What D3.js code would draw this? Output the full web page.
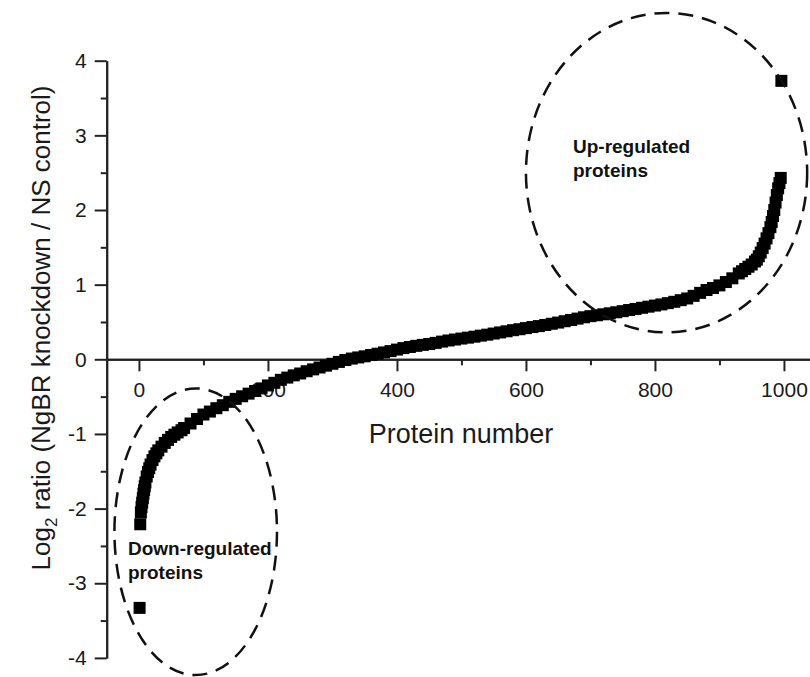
<!DOCTYPE html>
<html>
<head>
<meta charset="utf-8">
<script src="https://cdn.jsdelivr.net/npm/d3@7"></script>
<style>
  body { margin: 0; background: #fff; }
  svg { display: block; font-family: "Liberation Sans", Arial, sans-serif; }
</style>
</head>
<body>
<svg id="chart"></svg>
<script>
// protein rank (sorted by ratio) and log2 ratio
const proteinIndex = [
  1, 2, 3, 4, 5, 6, 7, 8, 9, 10, 12, 14, 16, 18, 21, 24, 27, 30, 35, 40, 45, 50, 55, 60, 66, 70,
  80, 90, 100, 110, 120, 130, 140, 150, 160, 170, 180, 190, 200, 210, 220, 230, 240, 250,
  260, 270, 280, 290, 300, 310, 320, 330, 340, 350, 360, 370, 380, 390, 400, 410, 420, 430,
  440, 450, 460, 470, 480, 490, 500, 510, 520, 530, 540, 550, 560, 570, 580, 590, 600, 610,
  620, 630, 640, 650, 660, 670, 680, 690, 700, 710, 720, 730, 740, 750, 760, 770, 780, 790,
  800, 810, 820, 830, 840, 850, 860, 870, 880, 890, 900, 910, 920, 930, 935, 940, 945, 950,
  955, 958, 961, 964, 967, 970, 973, 976, 979, 981, 983, 985, 987, 989, 991, 993, 995, 996
];
const log2Ratio = [
  -3.33, -2.21, -2.05, -1.98, -1.92, -1.86, -1.80, -1.75, -1.70, -1.65, -1.57, -1.51, -1.46,
  -1.41, -1.35, -1.30, -1.26, -1.22, -1.17, -1.12, -1.08, -1.04, -1.01, -0.98, -0.95, -0.92,
  -0.86, -0.80, -0.74, -0.70, -0.655, -0.615, -0.57, -0.53, -0.495, -0.46, -0.425, -0.39,
  -0.35, -0.315, -0.275, -0.245, -0.215, -0.19, -0.16, -0.135, -0.11, -0.085, -0.06, -0.035,
  -0.01, 0.01, 0.025, 0.04, 0.058, 0.075, 0.092, 0.11, 0.13, 0.15, 0.165, 0.18, 0.193, 0.205,
  0.22, 0.237, 0.252, 0.265, 0.278, 0.29, 0.303, 0.317, 0.33, 0.345, 0.36, 0.375, 0.39, 0.403,
  0.418, 0.432, 0.445, 0.46, 0.476, 0.492, 0.51, 0.527, 0.545, 0.563, 0.578, 0.59, 0.603,
  0.616, 0.63, 0.645, 0.66, 0.675, 0.69, 0.705, 0.72, 0.735, 0.752, 0.77, 0.792, 0.815, 0.85,
  0.89, 0.928, 0.955, 0.99, 1.035, 1.085, 1.15, 1.18, 1.21, 1.24, 1.27, 1.31, 1.335, 1.38,
  1.43, 1.49, 1.55, 1.62, 1.69, 1.77, 1.84, 1.92, 2.0, 2.1, 2.2, 2.29, 2.36, 2.43, 3.73
];

const xTickLabels = [0, 200, 400, 600, 800, 1000];
const xMinorTicks = [100, 300, 500, 700, 900];
const yTickLabels = [-4, -3, -2, -1, 0, 1, 2, 3, 4];
const yMinorTicks = [-3.5, -2.5, -1.5, -0.5, 0.5, 1.5, 2.5, 3.5];

// dashed ellipses around the tails (data units)
const regions = [
  { lines: ["Up-regulated", "proteins"], cx: 818, cy: 2.5, rx: 218, ry: 2.14, tx: 573, ty: 153 },
  { lines: ["Down-regulated", "proteins"], cx: 88, cy: -2.31, rx: 126, ry: 1.92, tx: 128, ty: 555 }
];

const W = 810, H = 677;
const margin = { top: 60.7, left: 106.7 };
const plotH = 597.2, plotW = 709.5;

const svg = d3.select("#chart").attr("width", W).attr("height", H);

const x = d3.scaleLinear().domain([-50, 1050]).range([margin.left, margin.left + plotW]);
const y = d3.scaleLinear().domain([-4, 4]).range([margin.top + plotH, margin.top]);

const styleAxis = g => {
  g.selectAll("path, line").attr("stroke", "#222").attr("stroke-width", 2);
  g.selectAll("text").attr("fill", "#1a1a1a").style("font-size", "21px")
    .style("font-family", "'Liberation Sans', Arial, sans-serif");
};

// x axis sits on y = 0
svg.append("g")
  .attr("transform", `translate(0,${y(0)})`)
  .call(d3.axisBottom(x).tickValues(xTickLabels).tickSize(12).tickSizeOuter(0).tickPadding(11)
    .tickFormat(d => String(d)))
  .call(styleAxis);

svg.append("g")
  .attr("transform", `translate(0,${y(0)})`)
  .call(d3.axisBottom(x).tickValues(xMinorTicks).tickSize(6).tickSizeOuter(0).tickFormat(""))
  .call(styleAxis);

svg.append("g")
  .attr("transform", `translate(${margin.left},0)`)
  .call(d3.axisLeft(y).tickValues(yTickLabels).tickSize(12).tickSizeOuter(0).tickPadding(8)
    .tickFormat(d => String(d)))
  .call(styleAxis);

svg.append("g")
  .attr("transform", `translate(${margin.left},0)`)
  .call(d3.axisLeft(y).tickValues(yMinorTicks).tickSize(6).tickSizeOuter(0).tickFormat(""))
  .call(styleAxis);

// axis titles
svg.append("text")
  .attr("x", 461).attr("y", 443)
  .attr("text-anchor", "middle")
  .attr("fill", "#1a1a1a")
  .style("font-size", "27px")
  .text("Protein number");

const yTitle = svg.append("text")
  .attr("transform", "translate(50,328) rotate(-90)")
  .attr("text-anchor", "middle")
  .attr("fill", "#1a1a1a")
  .style("font-size", "26px");
yTitle.append("tspan").text("Log");
yTitle.append("tspan").attr("dy", 7).style("font-size", "17px").text("2");
yTitle.append("tspan").attr("dy", -7).text(" ratio (NgBR knockdown / NS control)");

// data squares
const pts = proteinIndex.map((p, i) => ({ p, v: log2Ratio[i] }));
const s = 12;
svg.append("g")
  .selectAll("rect")
  .data(pts)
  .enter()
  .append("rect")
  .attr("x", d => x(d.p) - s / 2)
  .attr("y", d => y(d.v) - s / 2)
  .attr("width", s)
  .attr("height", s)
  .attr("fill", "#000");

// ellipses + labels
regions.forEach(r => {
  svg.append("ellipse")
    .attr("cx", x(r.cx)).attr("cy", y(r.cy))
    .attr("rx", x(r.rx) - x(0)).attr("ry", y(0) - y(r.ry))
    .attr("fill", "none")
    .attr("stroke", "#111")
    .attr("stroke-width", 2.5)
    .attr("stroke-dasharray", "15 9");

  svg.append("text")
    .attr("x", r.tx).attr("y", r.ty)
    .attr("fill", "#111")
    .style("font-size", "19px")
    .style("font-weight", "bold")
    .selectAll("tspan")
    .data(r.lines)
    .enter()
    .append("tspan")
    .attr("x", r.tx)
    .attr("dy", (d, i) => i === 0 ? 0 : 24)
    .text(d => d);
});
</script>
</body>
</html>
